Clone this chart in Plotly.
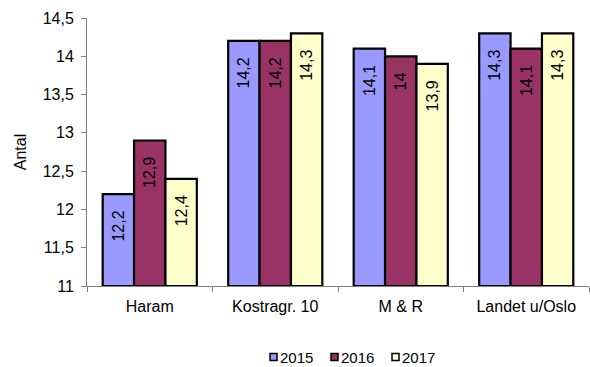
import plotly.graph_objects as go

categories = ["Haram", "Kostragr. 10", "M & R", "Landet u/Oslo"]
years = ["2015", "2016", "2017"]
values_2015 = [12.2, 14.2, 14.1, 14.3]
values_2016 = [12.9, 14.2, 14.0, 14.1]
values_2017 = [12.4, 14.3, 13.9, 14.3]
colors = ["#9999FF", "#993366", "#FFFFCC"]
y_ticks = [11, 11.5, 12, 12.5, 13, 13.5, 14, 14.5]

font_family = "Liberation Sans, Arial, sans-serif"
NBSP = "\u00a0"


def fmt(v):
    return f"{v:g}".replace(".", ",")


W, H = 590, 367
M = dict(l=87, r=1, t=18, b=81)
plot_w = W - M["l"] - M["r"]
plot_h = H - M["t"] - M["b"]

fig = go.Figure()
for name, vals, col in zip(years, [values_2015, values_2016, values_2017], colors):
    fig.add_trace(go.Bar(
        name=name,
        x=categories,
        y=[v - 11 for v in vals],
        base=11,
        marker=dict(color=col, line=dict(color="black", width=2.2)),
        text=[fmt(v) + NBSP * 3 for v in vals],
        textposition="inside",
        insidetextanchor="end",
        textangle=-90,
        textfont=dict(family=font_family, size=16, color="black"),
        hoverinfo="skip",
        showlegend=False,
    ))

# Legend row below the plot: small outlined squares followed by the year
legend_y_px = 357
for i, (name, col) in enumerate(zip(years, colors)):
    x0_px = 270 + i * 61
    fig.add_shape(
        type="rect", xref="paper", yref="paper",
        x0=(x0_px - M["l"]) / plot_w, x1=(x0_px + 7 - M["l"]) / plot_w,
        y0=(H - M["b"] - (legend_y_px + 3.5)) / plot_h,
        y1=(H - M["b"] - (legend_y_px - 3.5)) / plot_h,
        fillcolor=col, line=dict(color="black", width=1.5),
    )
    fig.add_annotation(
        xref="paper", yref="paper",
        x=(x0_px + 7.5 - M["l"]) / plot_w,
        y=(H - M["b"] - legend_y_px) / plot_h,
        xanchor="left", yanchor="middle", showarrow=False,
        text=name, font=dict(family=font_family, size=15, color="black"),
    )

fig.update_layout(
    width=W, height=H,
    margin=M,
    paper_bgcolor="white", plot_bgcolor="white",
    barmode="group", bargap=0.25, bargroupgap=0,
    separators=", ",
    font=dict(family=font_family, size=16, color="black"),
    showlegend=False,
    uniformtext=dict(minsize=8, mode="show"),
)
fig.update_xaxes(
    type="category", showline=True, linecolor="#808080", linewidth=1,
    ticks="outside", tickson="boundaries", ticklen=5, tickcolor="#808080",
    showgrid=False, tickfont=dict(size=16), ticklabelstandoff=6,
)
fig.update_yaxes(
    range=[11, 14.5], tickvals=y_ticks,
    ticktext=[fmt(t) for t in y_ticks],
    showline=True, linecolor="#808080", linewidth=1,
    ticks="outside", ticklen=5, tickcolor="#808080",
    showgrid=False, zeroline=False, tickfont=dict(size=16), ticklabelstandoff=4,
    title=dict(text="Antal", font=dict(size=16), standoff=12),
)

fig.write_html("out.html")
